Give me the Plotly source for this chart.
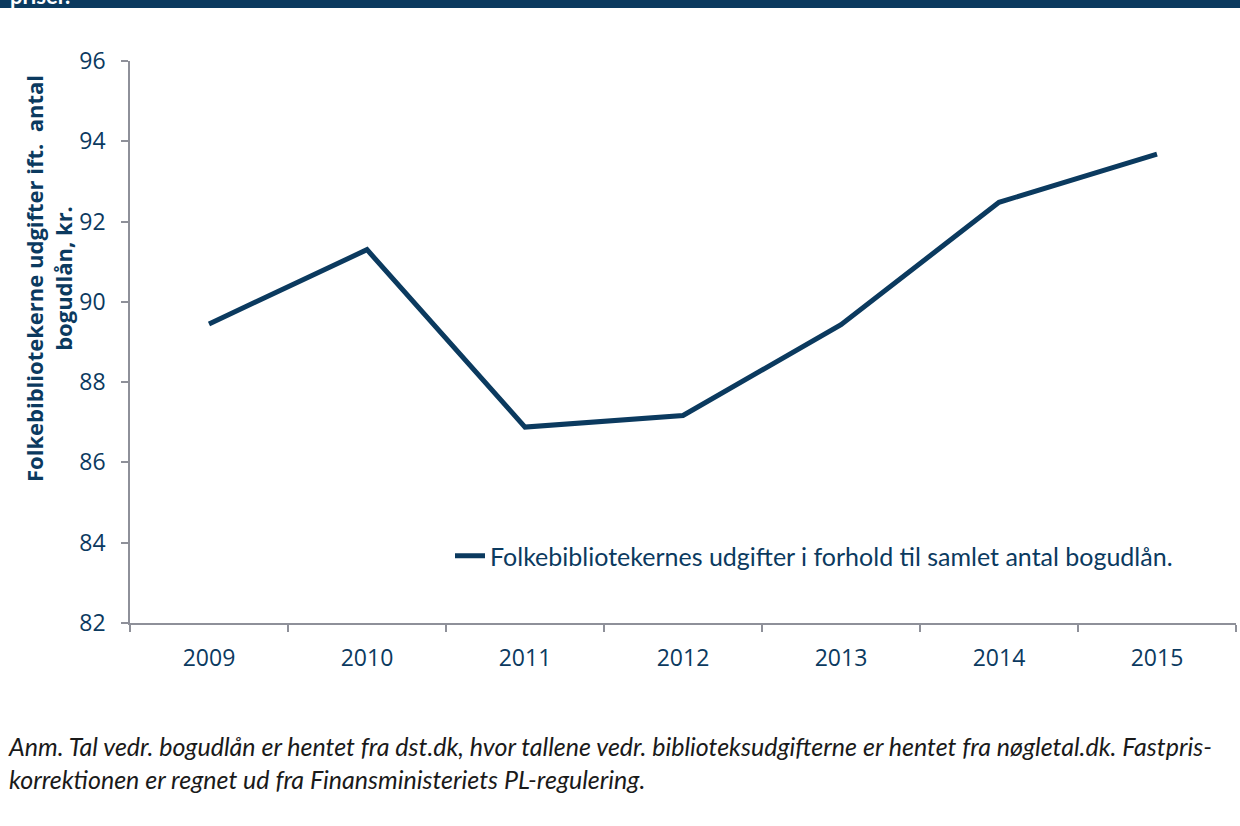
import plotly.graph_objects as go

years = ["2009", "2010", "2011", "2012", "2013", "2014", "2015"]
values = [89.45, 91.3, 86.88, 87.17, 89.43, 92.48, 93.68]
series_name = "Folkebibliotekernes udgifter i forhold til samlet antal bogudlån."
y_ticks = [82, 84, 86, 88, 90, 92, 94, 96]

navy = "#0b3a5f"
axis_grey = "#8e9099"

W, H = 1240, 826
L, R, T, B = 130, 4, 61, 203
ph = H - T - B
pw = W - L - R

def px_to_paper_y(py):
    return (H - B - py) / ph

def px_to_paper_x(px):
    return (px - L) / pw

fig = go.Figure()
fig.add_trace(go.Scatter(
    x=years, y=values, mode="lines", name=series_name,
    line=dict(color=navy, width=5),
))

fig.update_layout(
    width=W, height=H,
    margin=dict(l=L, r=R, t=T, b=B),
    paper_bgcolor="white", plot_bgcolor="white",
    font=dict(family="Open Sans", color=navy),
    showlegend=True,
    legend=dict(
        x=px_to_paper_x(450), y=px_to_paper_y(556), xanchor="left", yanchor="middle",
        bgcolor="rgba(0,0,0,0)",
        font=dict(family="Lato", size=25, color=navy),
    ),
    xaxis=dict(
        type="category", showgrid=False, showline=True, linecolor=axis_grey, linewidth=1.5,
        ticks="outside", tickson="boundaries", ticklen=7, tickcolor=axis_grey, tickwidth=1.5,
        tickfont=dict(family="Open Sans", size=23, color=navy),
        ticklabelstandoff=14,
        range=[-0.5, 6.5],
    ),
    yaxis=dict(
        range=[82, 96], tickvals=y_ticks, showgrid=False, zeroline=False,
        showline=True, linecolor=axis_grey, linewidth=1.5,
        ticks="outside", ticklen=7, tickcolor=axis_grey, tickwidth=1.5,
        tickfont=dict(family="Open Sans", size=23, color=navy),
        ticklabelstandoff=11,
    ),
    shapes=[dict(
        type="rect", xref="paper", yref="paper",
        x0=px_to_paper_x(-10), x1=px_to_paper_x(W + 10),
        y0=px_to_paper_y(8), y1=px_to_paper_y(-20),
        fillcolor=navy, line=dict(width=0), layer="above",
    )],
    annotations=[
        dict(
            text="<b>priser.</b>", xref="paper", yref="paper",
            x=px_to_paper_x(8), y=px_to_paper_y(11), xanchor="left", yanchor="bottom",
            showarrow=False, font=dict(family="Lato", size=22, color="white"),
        ),
        dict(
            text="<b>Folkebibliotekerne udgifter ift.  antal<br>bogudlån, kr.</b>",
            xref="paper", yref="paper",
            x=px_to_paper_x(48), y=px_to_paper_y(279), xanchor="center", yanchor="middle",
            textangle=-90, showarrow=False,
            font=dict(family="Open Sans", size=22, color=navy),
        ),
        dict(
            text="<i>Anm. Tal vedr. bogudlån er hentet fra dst.dk, hvor tallene vedr. biblioteksudgifterne er hentet fra nøgletal.dk. Fastpris-<br>korrektionen er regnet ud fra Finansministeriets PL-regulering.</i>",
            xref="paper", yref="paper",
            x=px_to_paper_x(6), y=px_to_paper_y(762), xanchor="left", yanchor="middle",
            align="left", showarrow=False,
            font=dict(family="Lato", size=25, color="#1a1a1a"),
        ),
    ],
)

fig.write_html("out.html", config={"displayModeBar": False},
               post_script="document.body.style.margin='0';")
